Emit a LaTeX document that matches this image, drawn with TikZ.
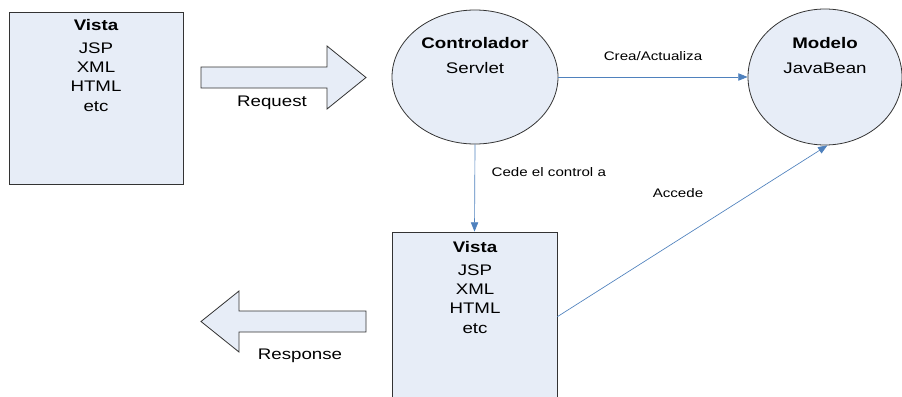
\documentclass[tikz,border=0pt]{standalone}
\usepackage{fontspec}
\setmainfont[FakeStretch=1.22]{Liberation Sans}
\usetikzlibrary{positioning, arrows.meta, shapes}

\definecolor{boxfill}{HTML}{E7EDF7}
\definecolor{linkblue}{HTML}{4F81BD}

\begin{document}
\begin{tikzpicture}
        [x=0.75pt, y=-0.75pt,
         vista/.style={rectangle, draw=black!80, fill=boxfill, line width=0.6pt, inner sep=0pt},
         part/.style={ellipse, draw=black!80, fill=boxfill, line width=0.6pt, inner sep=0pt},
         bigarrow/.style={draw=black!80, fill=boxfill, line width=0.6pt, line join=miter},
         title/.style={font=\fontsize{11.5}{13}\selectfont\bfseries},
         items/.style={align=center, font=\fontsize{11.5}{14.4}\selectfont},
         tag/.style={font=\fontsize{9.3}{11}\selectfont},
         link/.style={draw=linkblue, line width=0.5pt, ->},
         >={Triangle[length=7pt, width=5.5pt]}]
        \clip (0,0) rectangle (902,396);

        % client side view
        \node[vista, minimum width=130.5pt, minimum height=129pt] (vista1) at (96,98) {};
        \node[title] (vista1title) at (96,25) {Vista};
        \node[items] (vista1items) at (96,77) {JSP\\XML\\HTML\\etc};

        % controller and model
        \node[part, minimum width=124.5pt, minimum height=100.5pt] (ctrl) at (475,77) {};
        \node[title] (ctrltitle) at (475,43) {Controlador};
        \node[items] (ctrlitems) at (475,68) {Servlet};

        \node[part, minimum width=115.5pt, minimum height=102pt] (modelo) at (825,77) {};
        \node[title] (modelotitle) at (825,43) {Modelo};
        \node[items] (modeloitems) at (825,68) {JavaBean};

        % view that builds the response
        \node[vista, minimum width=123.75pt, minimum height=133.5pt] (vista2) at (474.5,321) {};
        \node[title] (vista2title) at (475,247) {Vista};
        \node[items] (vista2items) at (475,299) {JSP\\XML\\HTML\\etc};

        % request / response arrows
        \draw[bigarrow] (201,67) -- (327,67) -- (327,46) -- (366,77.5)
            -- (327,109) -- (327,88) -- (201,88) -- cycle;
        \node[items] (request) at (272,103) {Request};

        \draw[bigarrow] (201,321.5) -- (239,291) -- (239,311) -- (366,311)
            -- (366,332) -- (239,332) -- (239,352) -- cycle;
        \node[items] (response) at (300,356) {Response};

        \draw[link] (ctrl.east) -- node[tag, above=9pt] {Crea/Actualiza} (modelo.west);
        \draw[link] (ctrl.south) -- node[tag, right=9pt, pos=0.32] {Cede el control a} (vista2.north);
        \draw[link] (vista2.3.5) -- (modelo.-88);
        \node[tag] (accede) at (678,193) {Accede};
    \end{tikzpicture}
\end{document}
